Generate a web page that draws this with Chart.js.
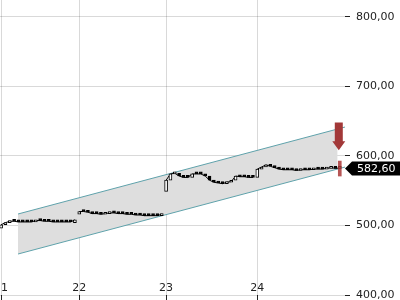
<!DOCTYPE html>
<html><head><meta charset="utf-8">
<script src="https://cdn.jsdelivr.net/npm/chart.js@4.4.1/dist/chart.umd.min.js"></script>
<style>html,body{margin:0;padding:0;background:#fff}#wrap{width:400px;height:300px;position:relative}</style>
</head><body><div id="wrap"><canvas id="c"></canvas></div>
<script>
// Session labels and the bar index where each session starts
const dayLabels = ['21', '22', '23', '24'];
const dayStart = [0, 18, 38, 59];

// Intraday bars (open / close), one per bar index
const opens = [
  496,501,504,506,506,505,505,505,505,507,507,506,506,505,505,505,505,504,
  516,520,520,519,517,517,516,517,518,518,517,517,516,516,515,515,514,514,514,514,
  549,565,574,575,571,569,569,574,574,574,571,565,562,561,560,562,565,571,570,570,569,
  569,581,584,587,585,583,581,580,580,580,579,580,580,580,581,581,581,582,583,582
];
const closes = [
  501,504,506,506,505,505,505,505,507,507,506,506,505,505,505,505,505,508,
  520,520,519,517,517,516,517,518,518,517,517,516,516,515,515,514,514,514,514,516,
  565,574,575,571,569,569,574,574,574,571,565,562,561,560,562,563,571,570,570,569,569,
  581,584,587,585,583,581,580,580,580,579,580,580,580,581,581,581,582,583,582,582.6
];

// Last bar highlight range and signal arrow (price values)
const markerRange = [571, 592.5];
const arrowFrom = 648, arrowTo = 608;

// Trend channel (bar index, price)
const channelX = [3.9, 79.2];
const channelUpper = [516.4, 641.4];
const channelLower = [458.9, 583.9];
const channelFillX = [3.9, 77.5];
const channelFillUpper = [516.4, 638.5];
const channelFillLower = [458.9, 581.0];

const yTicks = [400, 500, 600, 700, 800];

const fmt = v => v.toFixed(2).replace('.', ',');
const lastIdx = closes.length - 1;

Chart.defaults.font.family = 'DejaVu Sans';
Chart.defaults.font.size = 11;
Chart.defaults.color = '#222';

const bars = opens.map((o, i) => ({x: i, y: [o, closes[i]]}));
const barFill = opens.map((o, i) => closes[i] > o ? '#ffffff' : '#000000');

const noPad = s => { s.paddingLeft = 0; s.paddingRight = 0; s.paddingTop = 0; s.paddingBottom = 0; };

const overlay = {
  id: 'overlay',
  afterDraw(chart) {
    const {ctx, chartArea, scales} = chart;
    const xs = scales.x, ys = scales.y;
    // signal arrow
    const ax = xs.getPixelForValue(lastIdx) - 1;
    const top = ys.getPixelForValue(arrowFrom);
    const tip = ys.getPixelForValue(arrowTo);
    const headH = 9;
    ctx.save();
    ctx.fillStyle = '#a23838';
    ctx.beginPath();
    ctx.moveTo(ax - 4, top);
    ctx.lineTo(ax + 4, top);
    ctx.lineTo(ax + 4, tip - headH);
    ctx.lineTo(ax + 6.5, tip - headH);
    ctx.lineTo(ax, tip);
    ctx.lineTo(ax - 6.5, tip - headH);
    ctx.lineTo(ax - 4, tip - headH);
    ctx.closePath();
    ctx.fill();
    // last price label
    const last = closes[lastIdx];
    const y = Math.round(ys.getPixelForValue(last)) + 0.5;
    const r = chartArea.right;
    ctx.fillStyle = '#000';
    ctx.beginPath();
    ctx.moveTo(r, y);
    ctx.lineTo(r + 7, y - 7);
    ctx.lineTo(chart.width, y - 7);
    ctx.lineTo(chart.width, y + 7);
    ctx.lineTo(r + 7, y + 7);
    ctx.closePath();
    ctx.fill();
    ctx.fillStyle = '#fff';
    ctx.font = '11px "DejaVu Sans"';
    ctx.textBaseline = 'middle';
    ctx.textAlign = 'left';
    ctx.fillText(fmt(last), r + 12, y + 0.5);
    ctx.restore();
  }
};

new Chart(document.getElementById('c'), {
  type: 'bar',
  data: {
    datasets: [
      {
        type: 'bar', label: 'marker', order: 0, grouped: false,
        data: [{x: lastIdx, y: markerRange}],
        backgroundColor: 'rgba(170,55,55,0.85)', borderWidth: 0, barThickness: 3
      },
      {
        type: 'bar', label: 'bars', order: 1, grouped: false,
        data: bars,
        backgroundColor: barFill, borderColor: '#000', borderWidth: 1,
        borderSkipped: false, barThickness: 3, minBarLength: 2
      },
      {
        type: 'line', label: 'close', order: 2,
        data: closes.map((c, i) => ({x: i, y: c})),
        borderColor: '#000', borderWidth: 1, pointRadius: 0, tension: 0,
        segment: {borderColor: c => dayStart.includes(c.p1DataIndex) ? 'rgba(0,0,0,0)' : '#000'}
      },
      {
        type: 'line', label: 'upper', order: 4,
        data: channelX.map((x, i) => ({x, y: channelUpper[i]})),
        borderColor: '#5fa2ab', borderWidth: 1, pointRadius: 0, fill: false
      },
      {
        type: 'line', label: 'lower', order: 4,
        data: channelX.map((x, i) => ({x, y: channelLower[i]})),
        borderColor: '#5fa2ab', borderWidth: 1, pointRadius: 0, fill: false
      },
      {
        type: 'line', label: 'fillUpper', order: 6,
        data: channelFillX.map((x, i) => ({x, y: channelFillUpper[i]})),
        borderWidth: 0, borderColor: 'rgba(0,0,0,0)', pointRadius: 0,
        backgroundColor: '#dedede', fill: '+1'
      },
      {
        type: 'line', label: 'fillLower', order: 7,
        data: channelFillX.map((x, i) => ({x, y: channelFillLower[i]})),
        borderWidth: 0, borderColor: 'rgba(0,0,0,0)', pointRadius: 0, fill: false
      }
    ]
  },
  options: {
    responsive: true, maintainAspectRatio: false, animation: false,
    layout: {padding: 0},
    plugins: {legend: {display: false}, tooltip: {enabled: false}},
    scales: {
      x: {
        type: 'linear', position: 'bottom', min: -0.25, max: 79.2,
        offset: false, z: 1,
        border: {display: false},
        grid: {color: 'rgba(0,0,0,0.15)', tickColor: '#222', tickLength: 5, offset: false},
        afterBuildTicks: s => { s.ticks = dayStart.map(v => ({value: v})); },
        afterFit: s => { s.height = 5; noPad(s); },
        ticks: {
          mirror: true, padding: 0, maxRotation: 0, autoSkip: false,
          callback: (v, i) => dayLabels[i]
        }
      },
      y: {
        type: 'linear', position: 'right', min: 400, max: 824, z: 1,
        border: {display: false},
        grid: {color: 'rgba(0,0,0,0.15)', tickColor: '#222', tickLength: 5},
        afterBuildTicks: s => { s.ticks = yTicks.map(v => ({value: v})); },
        afterFit: s => { s.width = 55; noPad(s); },
        ticks: {padding: 6, callback: v => fmt(v)}
      }
    }
  },
  plugins: [overlay]
});
</script>
</body></html>
